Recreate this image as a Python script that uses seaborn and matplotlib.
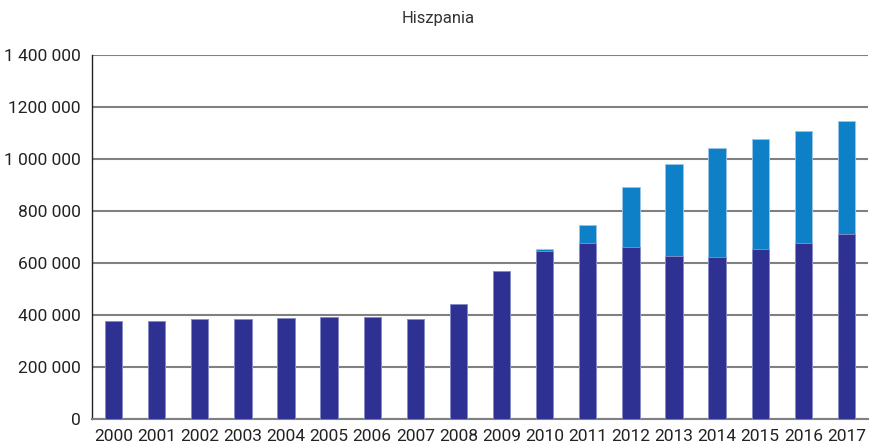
import numpy as np
import pandas as pd
import matplotlib.pyplot as plt
import seaborn as sns

years = [str(y) for y in range(2000, 2018)]
dark = [377000, 377000, 383000, 383000, 388000, 393000, 393000, 383000, 441000, 570000,
        646000, 676000, 663000, 628000, 623000, 652000, 676000, 712000]
total = [377000, 377000, 383000, 383000, 388000, 393000, 393000, 383000, 441000, 570000,
         654000, 746000, 893000, 982000, 1041000, 1077000, 1106000, 1147000]
yticks = [0, 200000, 400000, 600000, 800000, 1000000, 1200000, 1400000]
ytick_labels = ["0", "200 000", "400 000", "600 000", "800 000", "1 000 000", "1200 000", "1 400 000"]

df = pd.DataFrame({"year": years, "dark": dark, "total": total})

sns.set_style("white")
plt.rcParams["font.family"] = ["Roboto", "DejaVu Sans"]

fig = plt.figure(figsize=(8.77, 4.48), dpi=100)
ax = fig.add_axes([92 / 877, 29 / 448, 776 / 877, 364 / 448])

# light blue = total height, dark navy drawn over it from zero
sns.barplot(data=df, x="year", y="total", color="#0E80C8", width=0.4, saturation=1,
            edgecolor="#9FC6E6", linewidth=0.6, ax=ax, zorder=3)
sns.barplot(data=df, x="year", y="dark", color="#2E3192", width=0.4, saturation=1,
            edgecolor="#8E90C8", linewidth=0.6, ax=ax, zorder=4)

ax.set_xlim(-0.5, 17.5)
ax.set_ylim(0, 1400000)
ax.set_yticks(yticks)
ax.set_yticklabels(ytick_labels, fontsize=12.5, color="#222222")
ax.yaxis.grid(True, color="#808080", linewidth=1.5, zorder=0)
ax.set_axisbelow(True)

ax.set_xticks(range(len(years)))
ax.set_xticklabels(years, fontsize=12.5, color="#222222")
ax.set_xticks(np.arange(-0.5, 18, 1), minor=True)
ax.tick_params(axis="x", which="major", length=0, pad=7)
ax.tick_params(axis="x", which="minor", length=5, width=1, color="#404040", direction="out")
ax.tick_params(axis="y", length=5, width=1.5, color="#808080", direction="out", pad=3)

for s in ["top", "right"]:
    ax.spines[s].set_visible(False)
ax.spines["left"].set_color("#222222")
ax.spines["left"].set_linewidth(1)
ax.spines["bottom"].set_color("#808080")
ax.spines["bottom"].set_linewidth(1.5)

ax.set_xlabel("")
ax.set_ylabel("")
fig.text(0.5, 0.958, "Hiszpania", ha="center", va="center", fontsize=12, color="#333333")

plt.savefig("out.png", dpi=100)
